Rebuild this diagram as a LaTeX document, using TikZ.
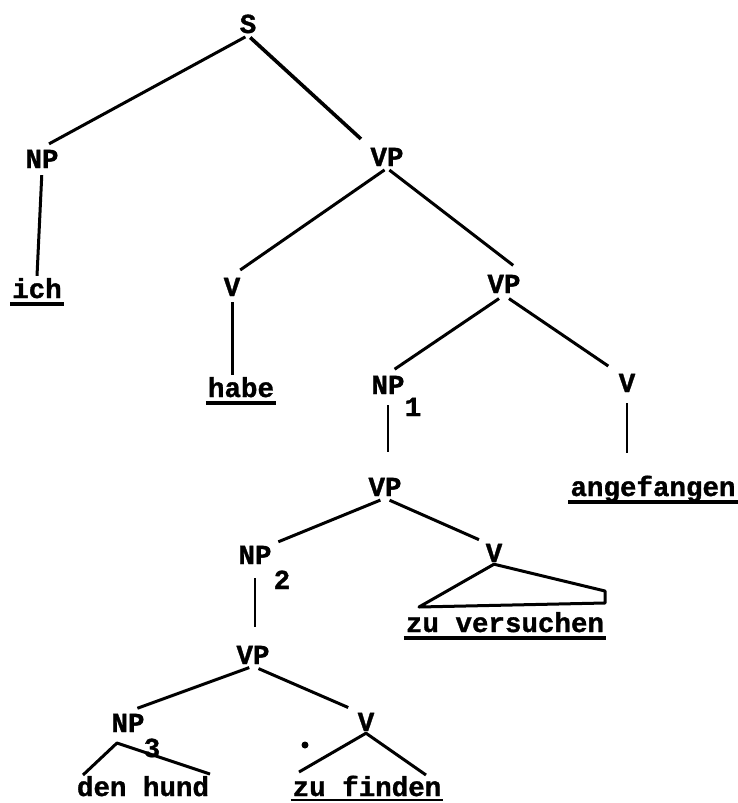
\documentclass[tikz,border=0pt]{standalone}
\usepackage{fontspec}
\newfontfamily\typew[BoldFont={Liberation Mono Bold},BoldFeatures={FakeBold=1.2}]{Liberation Mono}
\begin{document}
\begin{tikzpicture}[x=1pt,y=-1pt,
  cat/.style={font=\typew\bfseries\fontsize{27.5}{30}\selectfont,anchor=base,inner sep=2pt},
  branch/.style={line width=3pt,shorten <=3pt,shorten >=6pt},
  stem/.style={line width=1.8pt},
  tri/.style={line width=3pt,line join=round},
  uline/.style={line width=3.5pt}]
  \useasboundingbox (0,0) rectangle (738,803);
  \node[cat] (s) at (248,33) {S};
  \node[cat] (np0) at (42,168) {NP};
  \node[cat] (vp0) at (387,166) {VP};
  \node[cat] (ich) at (37,298) {ich};
  \node[cat] (v0) at (232,296) {V};
  \node[cat] (vp1) at (504,293) {VP};
  \node[cat] (habe) at (241,397) {habe};
  \node[cat] (np1) at (388,394) {NP};
  \node[cat] (sub1) at (413,416) {1};
  \node[cat] (v1) at (627,392) {V};
  \node[cat] (vp2) at (385,496) {VP};
  \node[cat] (angefangen) at (653,496) {angefangen};
  \node[cat] (np2) at (255,564) {NP};
  \node[cat] (sub2) at (282,589) {2};
  \node[cat] (v2) at (494,562) {V};
  \node[cat] (versuchen) at (505,632) {zu versuchen};
  \node[cat] (vp3) at (253,664) {VP};
  \node[cat] (np3) at (128,732) {NP};
  \node[cat] (sub3) at (152,757) {3};
  \node[cat] (v3) at (366,731) {V};
  \node[cat] (hund) at (143,796) {den hund};
  \node[cat] (finden) at (367,796) {zu finden};

  \draw[branch,shorten >=8pt] (s.south) -- (np0.north);
  \draw[branch,line width=3.6pt,shorten >=10pt] (s.south) -- (vp0.north west);
  \draw[branch,shorten <=5pt,shorten >=0pt] (np0.south) -- (ich.north);
  \draw[branch,shorten >=10pt] (vp0.south) -- (v0.north);
  \draw[branch,shorten >=12pt] (vp0.south) -- (vp1.north east);
  \draw[branch,shorten <=4pt,shorten >=0pt] (v0.south) -- (v0.south |- habe.north);
  \draw[branch,shorten <=6pt,shorten >=8pt] (vp1.south) -- (np1.north);
  \draw[branch,shorten <=6pt,shorten >=10pt] (vp1.south) -- (v1.north west);
  \draw[stem,shorten <=9pt,shorten >=24pt] (np1.south) -- (np1.south |- vp2.north);
  \draw[stem,shorten <=9pt,shorten >=20pt] (v1.south) -- (v1.south |- angefangen.north);
  \draw[branch,shorten <=5pt,shorten >=5pt] (vp2.south) -- (np2.north east);
  \draw[branch,shorten <=5pt,shorten >=5pt] (vp2.south) -- (v2.north west);
  \draw[stem,shorten <=12pt,shorten >=17pt] (np2.south) -- (np2.south |- vp3.north);
  \draw[branch,shorten <=4pt,shorten >=10pt] (vp3.south) -- (np3.north);
  \draw[branch,shorten <=6pt,shorten >=8pt] (vp3.south) -- (v3.north west);

  \coordinate (vsr) at (605,591);
  \coordinate (vsb) at (605,603);
  \coordinate (vsl) at (419,607);
  \draw[tri] (v2.south) -- (vsr) -- (vsb) -- (vsl) -- cycle;
  \coordinate (dha) at (117,743);
  \coordinate (dhl) at (83,775);
  \coordinate (dhr) at (210,774);
  \draw[tri] (dhl) -- (dha) -- (dhr);
  \coordinate (zfl) at (299,772);
  \coordinate (zfr) at (426,775);
  \draw[tri] (zfl) -- (v3.south) -- (zfr);
  \fill (305,745) circle (3.5pt);

  \foreach \w in {ich,habe,angefangen,versuchen}
    \draw[uline] ([yshift=-6pt]\w.base west) -- ([yshift=-6pt]\w.base east);
  \draw[line width=1.5pt] ([yshift=-4pt]finden.base west) -- ([yshift=-4pt]finden.base east);
\end{tikzpicture}
\end{document}
